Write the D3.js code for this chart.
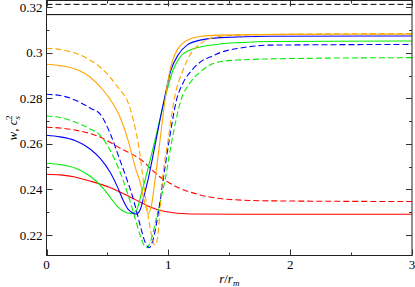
<!DOCTYPE html>
<html>
<head>
<meta charset="utf-8">
<script src="https://cdn.jsdelivr.net/npm/d3@7"></script>
<style>
  body { margin: 0; background: #fff; }
  svg { display: block; }
  .tick-label { font-family: "Liberation Serif", "DejaVu Serif", serif; font-size: 13px; fill: #000; }
  .axis-title { font-family: "Liberation Serif", "DejaVu Serif", serif; font-size: 13px; fill: #000; }
</style>
</head>
<body>
<div class="chart"></div>
<script>
// values: [r / r_m, w or c_s^2]
const orangeSolid = [[0,0.2950],[0.111,0.2944],[0.234,0.2929],[0.357,0.2894],[0.464,0.2837],[0.521,0.2797],
  [0.603,0.2718],[0.669,0.2617],[0.702,0.2551],[0.735,0.2486],[0.768,0.2433],[0.800,0.2354],[0.836,0.2295],
  [0.862,0.2332],[0.891,0.2442],[0.932,0.2617],[0.973,0.2793],[1.014,0.2925],[1.055,0.2995],[1.112,0.3039],
  [1.178,0.3061],[1.261,0.3072],[1.425,0.3078],[1.999,0.3081],[3,0.3082]];
const orangeDashed = [[0,0.3020],[0.111,0.3015],[0.234,0.2999],[0.357,0.2969],[0.439,0.2938],[0.521,0.2894],
  [0.603,0.2837],[0.661,0.2793],[0.702,0.2727],[0.735,0.2652],[0.768,0.2551],[0.792,0.2450],[0.825,0.2319],
  [0.858,0.2210],[0.891,0.2156],[0.911,0.2187],[0.932,0.2310],[0.952,0.2442],[0.998,0.2617],[1.047,0.2793],
  [1.121,0.2925],[1.178,0.2991],[1.261,0.3039],[1.342,0.3063],[1.507,0.3076],[1.999,0.3082],[3,0.3085]];
const blueSolid = [[0,0.2638],[0.111,0.2631],[0.234,0.2615],[0.357,0.2578],[0.439,0.2538],[0.521,0.2477],
  [0.587,0.2406],[0.628,0.2354],[0.669,0.2314],[0.702,0.2299],[0.735,0.2292],[0.768,0.2310],[0.800,0.2371],
  [0.833,0.2442],[0.899,0.2617],[0.965,0.2793],[1.022,0.2925],[1.080,0.2991],[1.153,0.3034],[1.261,0.3056],
  [1.425,0.3067],[1.835,0.3073],[3,0.3074]];
const blueDashed = [[0,0.2818],[0.111,0.2813],[0.234,0.2793],[0.357,0.2758],[0.439,0.2732],[0.521,0.2648],
  [0.603,0.2529],[0.661,0.2442],[0.710,0.2363],[0.768,0.2244],[0.809,0.2169],[0.842,0.2144],[0.874,0.2178],
  [0.915,0.2288],[0.957,0.2442],[1.014,0.2639],[1.067,0.2793],[1.121,0.2868],[1.195,0.2925],[1.285,0.2968],
  [1.359,0.2986],[1.425,0.3001],[1.589,0.3021],[1.835,0.3034],[3,0.3037]];
const greenSolid = [[0,0.2515],[0.111,0.2509],[0.234,0.2494],[0.357,0.2459],[0.464,0.2406],[0.521,0.2367],
  [0.579,0.2327],[0.636,0.2303],[0.698,0.2294],[0.743,0.2314],[0.776,0.2376],[0.809,0.2442],[0.891,0.2617],
  [0.969,0.2793],[1.039,0.2925],[1.096,0.2982],[1.178,0.3013],[1.261,0.3026],[1.425,0.3039],[1.589,0.3045],
  [1.835,0.3050],[3,0.3052]];
const greenDashed = [[0,0.2723],[0.111,0.2716],[0.234,0.2696],[0.357,0.2666],[0.439,0.2639],[0.521,0.2573],
  [0.628,0.2442],[0.710,0.2306],[0.768,0.2200],[0.800,0.2156],[0.823,0.2144],[0.858,0.2178],[0.907,0.2288],
  [0.973,0.2442],[1.030,0.2617],[1.104,0.2793],[1.178,0.2868],[1.261,0.2916],[1.342,0.2947],[1.425,0.2961],
  [1.589,0.2969],[1.999,0.2975],[3,0.2979]];
const redSolid = [[0,0.2467],[0.111,0.2464],[0.234,0.2455],[0.357,0.2437],[0.439,0.2424],[0.521,0.2409],
  [0.603,0.2389],[0.686,0.2367],[0.768,0.2345],[0.850,0.2323],[0.973,0.2303],[1.178,0.2292],[1.589,0.2291],[3,0.2291]];
const redDashed = [[0,0.2673],[0.111,0.2670],[0.234,0.2661],[0.357,0.2646],[0.439,0.2630],[0.603,0.2582],
  [0.768,0.2534],[0.932,0.2455],[1.071,0.2411],[1.261,0.2376],[1.507,0.2356],[1.835,0.2350],[3,0.2347]];

const blackSolidLevel = 0.3168;
const blackDashedLevel = 0.3213;

const xMajorTicks = [0, 1, 2, 3];
const xMinorTicks = [0.5, 1.5, 2.5];
const yMajorTicks = [0.22, 0.24, 0.26, 0.28, 0.30, 0.32];
const yMinorTicks = [0.23, 0.25, 0.27, 0.29, 0.31];
const yTickLabels = ["0.22", "0.24", "0.26", "0.28", "0.3", "0.32"];

const series = [
  { data: redDashed, color: "#ff0000", dash: "6,3" },
  { data: redSolid, color: "#ff0000", dash: null },
  { data: greenDashed, color: "#00ee00", dash: "6,3" },
  { data: greenSolid, color: "#00ee00", dash: null },
  { data: blueDashed, color: "#0000ff", dash: "6,3" },
  { data: blueSolid, color: "#0000ff", dash: null },
  { data: orangeDashed, color: "#ffa500", dash: "6,3" },
  { data: orangeSolid, color: "#ffa500", dash: null }
];

let svg = null, x = null, y = null;
let plotLeft = 46.5, plotRight = 412, plotTop = 0.5, plotBottom = 255.5;

setupSvg();
setupScales();
drawCurves();
drawFrame();
drawTicks();
drawTitles();

function setupSvg() {
  svg = d3.select(".chart")
    .append("svg")
    .attr("width", 415)
    .attr("height", 287);
  svg.append("clipPath")
    .attr("id", "plotClip")
    .append("rect")
    .attr("x", plotLeft).attr("y", plotTop)
    .attr("width", plotRight - plotLeft).attr("height", plotBottom - plotTop);
}

function setupScales() {
  x = d3.scaleLinear().domain([0, 3]).range([plotLeft, plotRight]);
  y = d3.scaleLinear().domain([0.211, 0.323]).range([plotBottom, plotTop]);
}

function drawCurves() {
  var g = svg.append("g").attr("clip-path", "url(#plotClip)");

  var line = d3.line()
    .x(function(d) { return x(d[0]); })
    .y(function(d) { return y(d[1]); })
    .curve(d3.curveMonotoneX);

  g.selectAll("path.curve")
    .data(series)
    .enter().append("path")
    .attr("class", "curve")
    .attr("d", function(d) { return line(d.data); })
    .attr("fill", "none")
    .attr("stroke", function(d) { return d.color; })
    .attr("stroke-width", 1.1)
    .attr("stroke-dasharray", function(d) { return d.dash; });

  // black reference levels
  g.append("line")
    .attr("x1", plotLeft).attr("x2", plotRight)
    .attr("y1", y(blackSolidLevel)).attr("y2", y(blackSolidLevel))
    .attr("stroke", "#000").attr("stroke-width", 1);
  g.append("line")
    .attr("x1", plotLeft).attr("x2", plotRight)
    .attr("y1", y(blackDashedLevel)).attr("y2", y(blackDashedLevel))
    .attr("stroke", "#000").attr("stroke-width", 1)
    .attr("stroke-dasharray", "6,3");
}

function drawFrame() {
  svg.append("rect")
    .attr("x", plotLeft).attr("y", plotTop)
    .attr("width", plotRight - plotLeft).attr("height", plotBottom - plotTop)
    .attr("fill", "none")
    .attr("stroke", "#222")
    .attr("stroke-width", 1);
}

function drawTicks() {
  var t = svg.append("g").attr("stroke", "#333").attr("stroke-width", 1);

  function xTick(v, len) {
    var px = Math.round(x(v)) + 0.5;
    t.append("line").attr("x1", px).attr("x2", px).attr("y1", plotBottom).attr("y2", plotBottom - len);
    t.append("line").attr("x1", px).attr("x2", px).attr("y1", plotTop).attr("y2", plotTop + len);
  }
  function yTick(v, len) {
    var py = Math.round(y(v)) + 0.5;
    t.append("line").attr("x1", plotLeft).attr("x2", plotLeft + len).attr("y1", py).attr("y2", py);
    t.append("line").attr("x1", plotRight).attr("x2", plotRight - len).attr("y1", py).attr("y2", py);
  }

  xMajorTicks.forEach(function(v) { xTick(v, 6); });
  xMinorTicks.forEach(function(v) { xTick(v, 3); });
  yMajorTicks.forEach(function(v) { yTick(v, 6); });
  yMinorTicks.forEach(function(v) { yTick(v, 3); });

  svg.selectAll("text.xlab")
    .data(xMajorTicks)
    .enter().append("text")
    .attr("class", "tick-label xlab")
    .attr("x", function(d) { return x(d); })
    .attr("y", 269)
    .attr("text-anchor", "middle")
    .text(function(d) { return d; });

  svg.selectAll("text.ylab")
    .data(yMajorTicks)
    .enter().append("text")
    .attr("class", "tick-label ylab")
    .attr("x", 42.5)
    .attr("y", function(d) { return y(d) + 4.5; })
    .attr("text-anchor", "end")
    .text(function(d, i) { return yTickLabels[i]; });
}

function drawTitles() {
  var xt = svg.append("text")
    .attr("class", "axis-title")
    .attr("x", (plotLeft + plotRight) / 2)
    .attr("y", 283)
    .attr("text-anchor", "middle");
  xt.append("tspan").attr("font-style", "italic").text("r");
  xt.append("tspan").text("/");
  xt.append("tspan").attr("font-style", "italic").text("r");
  xt.append("tspan").attr("font-style", "italic").attr("font-size", "9px").attr("dy", 3).text("m");

  var yt = svg.append("text")
    .attr("class", "axis-title")
    .attr("transform", "translate(17," + ((plotTop + plotBottom) / 2) + ") rotate(-90)")
    .attr("text-anchor", "middle");
  yt.append("tspan").attr("font-style", "italic").text("w");
  yt.append("tspan").text(", ");
  yt.append("tspan").attr("font-style", "italic").text("c");
  yt.append("tspan").attr("font-style", "italic").attr("font-size", "9px").attr("dy", 3).text("s");
  yt.append("tspan").attr("font-size", "9px").attr("dx", -4).attr("dy", -8).text("2");
}
</script>
</body>
</html>
